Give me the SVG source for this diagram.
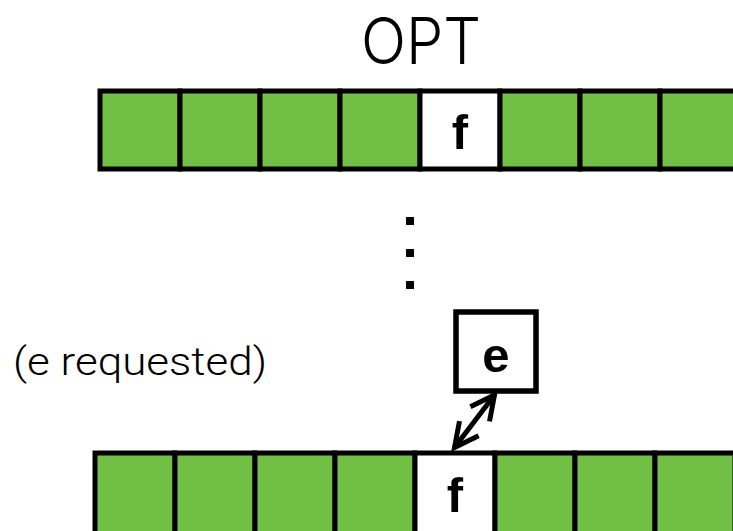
<svg xmlns="http://www.w3.org/2000/svg" width="733" height="531" viewBox="0 0 733 531">
  <style>
    .cell { stroke: #000; stroke-width: 5; }
    .full { fill: #71bf44; }
    .free { fill: #ffffff; }
    .page { font-family: "Liberation Sans", Arial, sans-serif; font-weight: bold; font-size: 49px; fill: #000; text-anchor: middle; }
    .label { font-family: Roboto, "Liberation Sans", sans-serif; font-weight: 300; fill: #000; }
    .title { font-family: Inter, "Liberation Sans", sans-serif; font-weight: 300; fill: #000; }
    .dot { fill: #000; }
    .link { stroke: #000; stroke-width: 5; fill: none; }
  </style>
  <defs>
    <marker id="head" markerUnits="userSpaceOnUse" markerWidth="50" markerHeight="50" viewBox="-35 -25 50 50" refX="0" refY="0" orient="auto-start-reverse">
      <path d="M-24,-12 L0,0 L-24,12" fill="none" stroke="#000" stroke-width="5" stroke-linejoin="miter"/>
    </marker>
  </defs>

  <rect width="733" height="531" fill="#ffffff"/>

  <!-- title -->
  <text class="title" x="421" y="64" font-size="64" text-anchor="middle" textLength="120" lengthAdjust="spacingAndGlyphs">OPT</text>

  <!-- cache state before the request -->
  <g id="opt-top">
    <g id="top-0"><rect class="cell full" x="100" y="91" width="80" height="78"/></g>
    <g id="top-1"><rect class="cell full" x="180" y="91" width="80" height="78"/></g>
    <g id="top-2"><rect class="cell full" x="260" y="91" width="80" height="78"/></g>
    <g id="top-3"><rect class="cell full" x="340" y="91" width="80" height="78"/></g>
    <g id="top-f"><rect class="cell free" x="420" y="91" width="80" height="78"/><text class="page" x="460" y="149">f</text></g>
    <g id="top-5"><rect class="cell full" x="500" y="91" width="80" height="78"/></g>
    <g id="top-6"><rect class="cell full" x="580" y="91" width="80" height="78"/></g>
    <g id="top-7"><rect class="cell full" x="660" y="91" width="80" height="78"/></g>
  </g>

  <!-- vertical ellipsis -->
  <g id="ellipsis">
    <rect class="dot" x="406" y="217" width="8" height="8"/>
    <rect class="dot" x="406" y="249" width="8" height="8"/>
    <rect class="dot" x="406" y="281" width="8" height="8"/>
  </g>

  <text class="label" x="13" y="375" font-size="38" textLength="254" lengthAdjust="spacingAndGlyphs">(e requested)</text>

  <!-- requested page -->
  <g id="page-e">
    <rect x="456" y="312" width="80" height="79" fill="#fff" stroke="#000" stroke-width="5.5"/>
    <text class="page" x="496" y="372">e</text>
  </g>

  <!-- cache state at the request -->
  <g id="opt-bottom">
    <g id="bot-0"><rect class="cell full" x="95" y="453" width="80" height="82"/></g>
    <g id="bot-1"><rect class="cell full" x="175" y="453" width="80" height="82"/></g>
    <g id="bot-2"><rect class="cell full" x="255" y="453" width="80" height="82"/></g>
    <g id="bot-3"><rect class="cell full" x="335" y="453" width="80" height="82"/></g>
    <g id="bot-f"><rect class="cell free" x="415" y="453" width="80" height="82"/><text class="page" x="455" y="512">f</text></g>
    <g id="bot-5"><rect class="cell full" x="495" y="453" width="80" height="82"/></g>
    <g id="bot-6"><rect class="cell full" x="575" y="453" width="80" height="82"/></g>
    <g id="bot-7"><rect class="cell full" x="655" y="453" width="80" height="82"/></g>
  </g>

  <!-- swap between e and f -->
  <g id="connectors">
    <line class="link" x1="454.5" y1="447.5" x2="494.5" y2="395" marker-start="url(#head)" marker-end="url(#head)"/>
  </g>
</svg>
